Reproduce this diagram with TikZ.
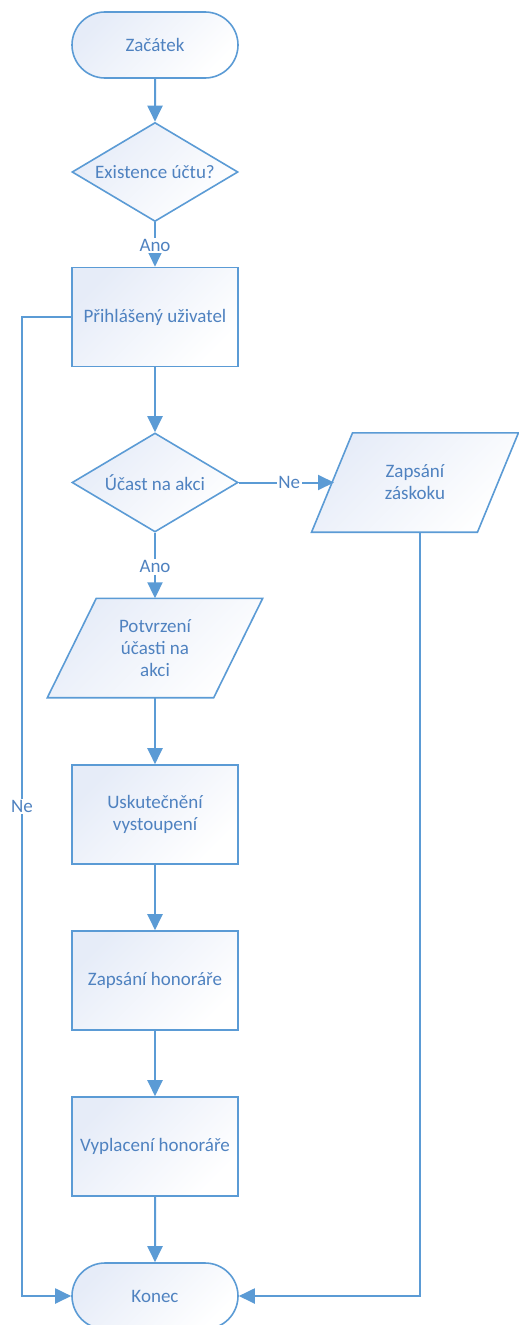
\documentclass[tikz,border=0pt]{standalone}
\usepackage{fontspec}
\setmainfont{Carlito}
\usetikzlibrary{shapes.geometric,shapes.misc,arrows.meta,backgrounds}
\definecolor{edge}{HTML}{5B9BD5}
\definecolor{ink}{HTML}{4F82C0}
\definecolor{tint}{HTML}{E6ECF8}
\tikzset{
  softfill/.style={top color=tint, bottom color=white, shading angle=45},
  txt/.style={text=ink, font=\fontsize{19}{22}\selectfont, align=center},
  base/.style={txt, draw=edge, line width=1.6pt, softfill, inner sep=0pt},
  terminal/.style={base, rounded rectangle, minimum width=166pt, minimum height=66pt},
  process/.style={base, rectangle, minimum width=166pt, minimum height=99pt},
  decision/.style={base, diamond, aspect=1.7, minimum width=166pt, minimum height=99pt},
  iobody/.style={txt, inner sep=0pt, minimum height=99pt},
  ioshape/.style={draw=edge, line width=1.6pt, softfill, line join=miter},
  flow/.style={draw=edge, line width=2pt, -{Triangle[length=16pt,width=15pt]}},
  lbl/.style={txt, fill=white, inner sep=1.5pt},
}
\begin{document}
\begin{tikzpicture}[x=1pt,y=-1pt]
\useasboundingbox (0,0) rectangle (519,1325);

% main column
\node[terminal] (start) at (155,45) {Začátek};
\node[decision] (acct) at (155,172) {Existence účtu?};
\node[process]  (login) at (155,317) {Přihlášený uživatel};
\node[decision] (join) at (155,482.5) {Účast na akci};
\node[iobody, minimum width=166pt] (confirm) at (155,648) {Potvrzení\\účasti na\\akci};
\node[process]  (perform) at (155,814.5) {Uskutečnění\\vystoupení};
\node[process]  (fee) at (155,980.5) {Zapsání honoráře};
\node[process]  (pay) at (155,1146.5) {Vyplacení honoráře};
\node[terminal] (end) at (155,1296) {Konec};

% side branch
\node[iobody, minimum width=165.5pt] (backup) at (415,482.5) {Zapsání\\záskoku};

% parallelogram outlines behind the texts
\begin{scope}[on background layer]
  \path[ioshape] ([xshift=-24.5pt]confirm.south west) -- ([xshift=-24.5pt]confirm.south east)
    -- ([xshift=24.5pt]confirm.north east) -- ([xshift=24.5pt]confirm.north west) -- cycle;
  \path[ioshape] ([xshift=-20.5pt]backup.south west) -- ([xshift=-20.5pt]backup.south east)
    -- ([xshift=20.5pt]backup.north east) -- ([xshift=20.5pt]backup.north west) -- cycle;
\end{scope}

% helper points of the routed connectors
\coordinate (leftTop) at (22,317);
\coordinate (leftBot) at (22,1296);
\coordinate (backupIn) at (334,482.5);
\coordinate (backupOut) at (420,532);
\coordinate (rightBot) at (420,1296);

% connectors
\draw[flow] (start) -- (acct);
\draw[flow] (acct) -- node[lbl, pos=0.52] {Ano} (login);
\draw[flow] (login) -- (join);
\draw[flow] (join.east) -- node[lbl, pos=0.53] {Ne} (backupIn);
\draw[flow] (join) -- node[lbl, pos=0.52] {Ano} (confirm);
\draw[flow] (confirm) -- (perform);
\draw[flow] (perform) -- (fee);
\draw[flow] (fee) -- (pay);
\draw[flow] (pay) -- (end);
\draw[flow] (login.west) -- (leftTop) -- node[lbl] {Ne} (leftBot) -- (end.west);
\draw[flow] (backupOut) -- (rightBot) -- (end.east);
\end{tikzpicture}
\end{document}
